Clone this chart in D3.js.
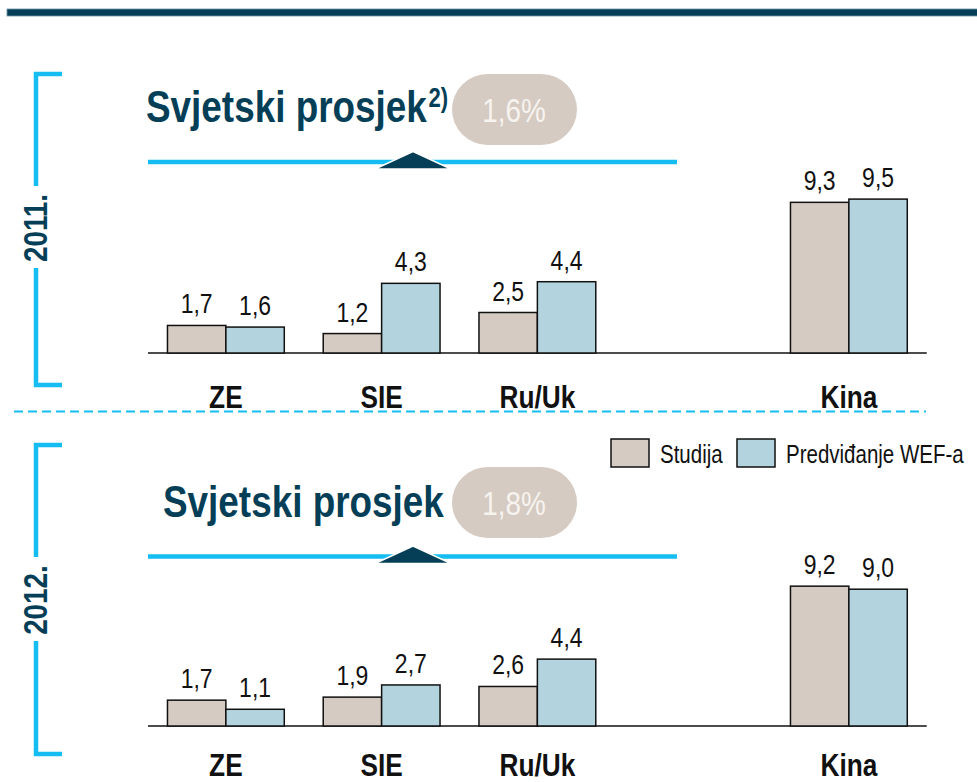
<!DOCTYPE html>
<html>
<head>
<meta charset="utf-8">
<script src="https://cdn.jsdelivr.net/npm/d3@7"></script>
<style>
  html, body { margin: 0; padding: 0; background: #fff; }
  svg { display: block; }
  text { font-family: "Liberation Sans", Arial, sans-serif; }
</style>
</head>
<body>
<svg id="chart" width="977" height="782"></svg>
<script>
// data
const categories = ["ZE", "SIE", "Ru/Uk", "Kina"];
const seriesNames = ["Studija", "Predviđanje WEF-a"];
const studija2011 = [1.7, 1.2, 2.5, 9.3];
const wef2011 = [1.6, 4.3, 4.4, 9.5];
const studija2012 = [1.7, 1.9, 2.6, 9.2];
const wef2012 = [1.1, 2.7, 4.4, 9.0];
const years = ["2011.", "2012."];
const worldAvg = ["1,6%", "1,8%"];
const footnotes = ["2)", ""];

const teal = "#053f57";
const cyan = "#16bdf2";
const beige = "#d5cbc2";
const lightBlue = "#b3d4df";
const narrow = 0.82; // no Arial Narrow here, so squeeze Liberation Sans

const svg = d3.select("#chart");
const at = (x, y) => `translate(${x},${y}) scale(${narrow},1)`;

// top rule
svg.append("rect")
  .attr("x", 7).attr("y", 9).attr("width", 972).attr("height", 7)
  .attr("fill", teal).attr("stroke", "#6b95a5").attr("stroke-width", 0.8);

// dashed separator between the years
svg.append("line")
  .attr("x1", 14).attr("x2", 926).attr("y1", 411.5).attr("y2", 411.5)
  .attr("stroke", cyan).attr("stroke-width", 2).attr("stroke-dasharray", "9,5");

// slots: an empty one keeps Kina apart from the others
const slots = ["ZE", "SIE", "Ru/Uk", "_gap", "Kina"];
const x = d3.scaleBand().domain(slots).range([148, 926.75]).paddingInner(0.25).paddingOuter(0.125);
const xSub = d3.scaleBand().domain(seriesNames).range([0, x.bandwidth()]);
const color = d3.scaleOrdinal().domain(seriesNames).range([beige, lightBlue]);
const fmt = v => d3.format(".1f")(v).replace(".", ",");

const panels = [
  { year: years[0], avg: worldAvg[0], note: footnotes[0], values: [studija2011, wef2011],
    base: 353, top: 191, catY: 408, titleX: 146, titleY: 122, pillY: 74, lineY: 162,
    bracket: [74, 385], gap: [186, 268] },
  { year: years[1], avg: worldAvg[1], note: footnotes[1], values: [studija2012, wef2012],
    base: 726, top: 574, catY: 776, titleX: 163, titleY: 517, pillY: 467, lineY: 556.5,
    bracket: [445, 754], gap: [557, 641] }
];

panels.forEach(p => {
  const g = svg.append("g");
  const y = d3.scaleLinear().domain([0, 10]).range([p.base, p.top]);

  // bracket on the left with the year
  const bx = 36;
  g.append("path")
    .attr("d", `M62,${p.bracket[0]}H${bx}V${p.gap[0]}M${bx},${p.gap[1]}V${p.bracket[1]}H62`)
    .attr("fill", "none").attr("stroke", cyan).attr("stroke-width", 4.5);
  g.append("text")
    .attr("transform", `translate(47,${(p.gap[0] + p.gap[1]) / 2 + 1}) rotate(-90) scale(${narrow},1)`)
    .attr("text-anchor", "middle")
    .attr("fill", teal).attr("font-weight", "bold").attr("font-size", 34)
    .text(p.year);

  // world average header
  const title = g.append("text")
    .attr("transform", at(p.titleX, p.titleY))
    .attr("fill", teal).attr("font-weight", "bold").attr("font-size", 45)
    .text("Svjetski prosjek");
  if (p.note) {
    title.append("tspan").attr("font-size", 27).attr("dx", 2).attr("dy", -15).text(p.note);
  }

  g.append("rect")
    .attr("x", 452).attr("y", p.pillY).attr("width", 125).attr("height", 71)
    .attr("rx", 35.5).attr("fill", beige);
  g.append("text")
    .attr("transform", at(514, p.pillY + 48))
    .attr("text-anchor", "middle").attr("fill", "#f7f3ef").attr("font-size", 34)
    .text(p.avg);

  g.append("line")
    .attr("x1", 148).attr("x2", 677).attr("y1", p.lineY).attr("y2", p.lineY)
    .attr("stroke", cyan).attr("stroke-width", 4.5);
  g.append("path")
    .attr("d", `M375,${p.lineY + 7}L413,${p.lineY - 10.5}L451,${p.lineY + 7}Z`)
    .attr("fill", teal).attr("stroke", "#fff").attr("stroke-width", 1.5);

  // bars
  const rows = categories.map((c, i) => ({ cat: c, vals: seriesNames.map((s, k) => ({ s, v: p.values[k][i] })) }));

  g.append("line")
    .attr("x1", x.range()[0]).attr("x2", x.range()[1])
    .attr("y1", p.base).attr("y2", p.base)
    .attr("stroke", "#111").attr("stroke-width", 1.5);

  const groups = g.selectAll(".grp").data(rows).enter().append("g")
    .attr("transform", d => `translate(${x(d.cat)},0)`);

  groups.selectAll("rect").data(d => d.vals).enter().append("rect")
    .attr("x", d => xSub(d.s))
    .attr("y", d => y(d.v))
    .attr("width", xSub.bandwidth())
    .attr("height", d => p.base - y(d.v))
    .attr("fill", d => color(d.s))
    .attr("stroke", "#111").attr("stroke-width", 1.5);

  groups.selectAll(".val").data(d => d.vals).enter().append("text")
    .attr("transform", d => at(xSub(d.s) + xSub.bandwidth() / 2, y(d.v) - 12))
    .attr("text-anchor", "middle").attr("font-size", 28).attr("fill", "#111")
    .text(d => fmt(d.v));

  groups.append("text")
    .attr("transform", at(x.bandwidth() / 2, p.catY))
    .attr("text-anchor", "middle").attr("font-size", 32).attr("font-weight", "bold").attr("fill", "#111")
    .text(d => d.cat);
});

// legend
const legend = svg.append("g").attr("transform", "translate(611,439)");
const legendX = [0, 126];
seriesNames.forEach((s, i) => {
  legend.append("rect")
    .attr("x", legendX[i]).attr("y", 0).attr("width", 38).attr("height", 28)
    .attr("fill", color(s)).attr("stroke", "#111").attr("stroke-width", 1.5);
  legend.append("text")
    .attr("transform", at(legendX[i] + 49, 24))
    .attr("font-size", 25).attr("fill", "#111")
    .text(s);
});
</script>
</body>
</html>
